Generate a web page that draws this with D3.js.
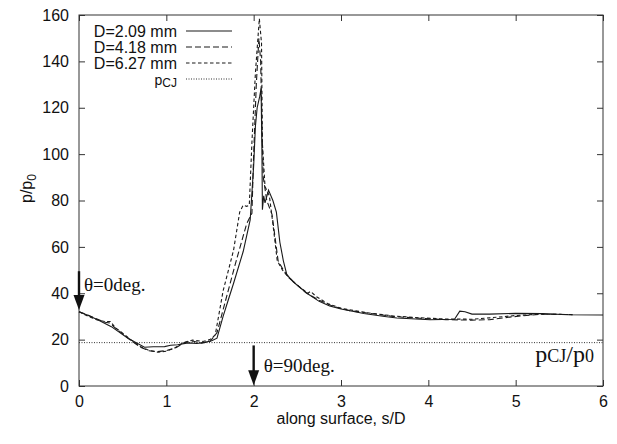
<!DOCTYPE html>
<meta charset="utf-8">
<script src="https://d3js.org/d3.v7.min.js"></script>
<style>
  body { margin: 0; background: #fff; }
  text { font-family: "Liberation Sans", Arial, sans-serif; fill: #111; }
  .serif { font-family: "Liberation Serif", "Times New Roman", serif; }
</style>
<div id="chart"></div>
<script>

// Series: [s/D, p/p0]
var d209 = [[0,32],[0.1,30.5],[0.22,28.5],[0.37,25.6],[0.56,20.6],[0.75,16.7],[0.85,16.9],[0.98,17.0],[1.05,17.6],[1.13,17.8],[1.25,18.6],[1.35,18.3],[1.44,18.8],[1.52,19.5],[1.58,20.6],[1.65,30],[1.7,36],[1.77,44.3],[1.88,58],[1.96,71.6],[2.0,95],[2.02,112],[2.04,120],[2.07,125],[2.085,128.4],[2.095,100],[2.1,76],[2.115,82],[2.13,79],[2.17,84.5],[2.22,80],[2.26,75],[2.3,62],[2.34,54],[2.38,48],[2.45,45],[2.53,42.5],[2.61,40],[2.75,36.5],[2.87,34.5],[3.0,33.2],[3.26,31.3],[3.5,30],[3.64,29.3],[4.02,28.6],[4.3,28.8],[4.36,32.3],[4.42,32],[4.5,31],[4.7,31],[5.0,31.3],[5.3,31.2],[5.6,30.7],[6.0,30.6]]

var d418 = [[0,32],[0.1,30.6],[0.2,29],[0.3,27.5],[0.35,27.2],[0.4,25.5],[0.5,22.5],[0.6,19.5],[0.7,16.8],[0.8,15.2],[0.9,14.8],[1.0,15.3],[1.1,16.3],[1.2,18.6],[1.3,19.4],[1.4,18.5],[1.5,19.2],[1.58,23],[1.69,38.5],[1.8,54],[1.92,70],[1.98,74.5],[2.0,100],[2.03,130],[2.06,150],[2.08,140],[2.095,112],[2.11,90],[2.15,80],[2.21,74],[2.28,54],[2.34,50],[2.4,47],[2.5,43.5],[2.6,40.2],[2.75,37],[2.9,34.5],[3.1,32.5],[3.3,31.5],[3.6,30],[3.9,29.2],[4.2,28.6],[4.5,28.4],[4.7,28.6],[4.95,29.8],[5.3,31],[5.65,30.8]]

var d627 = [[0,32],[0.1,30.2],[0.2,28.6],[0.3,27.8],[0.36,27.8],[0.42,25],[0.5,22.8],[0.6,19.8],[0.7,17],[0.8,15.4],[0.9,14.6],[1.0,15],[1.1,16.5],[1.2,18.8],[1.3,19.8],[1.42,19.2],[1.5,20],[1.56,22],[1.65,41],[1.77,58.6],[1.84,75],[1.88,78],[1.92,77.5],[1.95,78],[1.98,105],[2.02,135],[2.065,158.5],[2.09,147.8],[2.1,104.6],[2.13,86],[2.18,82],[2.22,70],[2.27,54],[2.33,50],[2.4,46.8],[2.5,43.5],[2.62,40],[2.65,40.8],[2.72,38.5],[2.85,35.5],[3.0,33.5],[3.3,31.6],[3.6,30.2],[3.9,29.4],[4.2,28.9],[4.5,28.8],[4.7,29.4],[5.0,30.4],[5.3,31],[5.65,30.8]]

var pCJ = 18.7
var xTicks = [0, 1, 2, 3, 4, 5, 6]
var yTicks = [0, 20, 40, 60, 80, 100, 120, 140, 160]

var series = [
  {name: "D=2.09 mm", data: d209, dash: null},
  {name: "D=4.18 mm", data: d418, dash: "6,3"},
  {name: "D=6.27 mm", data: d627, dash: "3.5,2.5"}
]

var margin = {top: 15, right: 14, bottom: 58, left: 79},
    width = 617 - margin.left - margin.right,
    height = 444 - margin.top - margin.bottom

var svg = d3.select("#chart")
  .append("svg")
    .attr("width", 617)
    .attr("height", 444)
  .append("g")
    .attr("transform", "translate(" + margin.left + "," + margin.top + ")")

var x = d3.scaleLinear().domain([0, 6]).range([0, width])
var y = d3.scaleLinear().domain([0, 160]).range([height, 0])

// Axes with inward ticks, mirrored on top and right
svg.append("g")
  .attr("transform", "translate(0," + height + ")")
  .call(d3.axisBottom(x).tickValues(xTicks).tickSize(-6).tickPadding(10).tickFormat(d3.format("d")))
  .call(function(g){ g.select(".domain").remove() })
svg.append("g")
  .call(d3.axisTop(x).tickValues(xTicks).tickSize(-6).tickFormat(""))
  .call(function(g){ g.select(".domain").remove() })
svg.append("g")
  .call(d3.axisLeft(y).tickValues(yTicks).tickSize(-6).tickPadding(10))
  .call(function(g){ g.select(".domain").remove() })
svg.append("g")
  .attr("transform", "translate(" + width + ",0)")
  .call(d3.axisRight(y).tickValues(yTicks).tickSize(-6).tickFormat(""))
  .call(function(g){ g.select(".domain").remove() })

svg.selectAll(".tick line").attr("stroke", "#333")
svg.selectAll(".tick text").style("font-size", "16px").style("font-family", "'Liberation Sans', Arial, sans-serif").attr("fill", "#111")

svg.append("rect")
  .attr("width", width).attr("height", height)
  .attr("fill", "none").attr("stroke", "#333").attr("stroke-width", 1)

// Axis titles
svg.append("text")
  .attr("x", 262).attr("y", height + 38)
  .attr("text-anchor", "middle")
  .style("font-size", "16px")
  .text("along surface, s/D")

var ylab = svg.append("text")
  .attr("transform", "translate(-47," + (y(80) - 12) + ") rotate(-90)")
  .attr("text-anchor", "middle")
  .style("font-size", "16px")
ylab.append("tspan").text("p/p")
ylab.append("tspan").attr("dy", 4).style("font-size", "12px").text("0")

// p_CJ line
svg.append("line")
  .attr("x1", 0).attr("x2", width)
  .attr("y1", y(pCJ)).attr("y2", y(pCJ))
  .attr("stroke", "#333").attr("stroke-width", 1)
  .attr("stroke-dasharray", "1,1.5")

// Curves
var line = d3.line()
  .x(function(d){ return x(d[0]) })
  .y(function(d){ return y(d[1]) })

svg.selectAll("path.curve")
  .data(series)
  .enter()
  .append("path")
    .attr("class", "curve")
    .attr("d", function(d){ return line(d.data) })
    .attr("fill", "none")
    .attr("stroke", "#1a1a1a")
    .attr("stroke-width", 1.1)
    .attr("stroke-dasharray", function(d){ return d.dash })

// Legend
var legend = svg.append("g").attr("transform", "translate(98,16)")
series.forEach(function(s, i){
  legend.append("text")
    .attr("x", 0).attr("y", i * 16 + 6)
    .attr("text-anchor", "end")
    .style("font-size", "16px")
    .text(s.name)
  legend.append("line")
    .attr("x1", 9).attr("x2", 55)
    .attr("y1", i * 16).attr("y2", i * 16)
    .attr("stroke", "#1a1a1a").attr("stroke-width", 1.1)
    .attr("stroke-dasharray", s.dash)
})
var lp = legend.append("text")
  .attr("x", 0).attr("y", 3 * 16 + 6)
  .attr("text-anchor", "end")
  .style("font-size", "14px")
lp.append("tspan").text("p")
lp.append("tspan").attr("dy", 2).style("font-size", "12px").text("CJ")
legend.append("line")
  .attr("x1", 9).attr("x2", 55)
  .attr("y1", 48).attr("y2", 48)
  .attr("stroke", "#333").attr("stroke-width", 1)
  .attr("stroke-dasharray", "1,1.5")

// Angle arrows
function arrow(sx, pTop, pTip) {
  var cx = x(sx), y0 = y(pTop), y1 = y(pTip)
  svg.append("line")
    .attr("x1", cx).attr("x2", cx)
    .attr("y1", y0).attr("y2", y1 - 14)
    .attr("stroke", "#111").attr("stroke-width", 2.4)
  svg.append("path")
    .attr("d", "M" + (cx - 5.5) + "," + (y1 - 15) + "L" + (cx + 5.5) + "," + (y1 - 15) + "L" + cx + "," + y1 + "Z")
    .attr("fill", "#111")
}
arrow(0, 49.5, 32.8)
arrow(2, 17.5, 0.3)

svg.append("text").attr("class", "serif")
  .attr("x", x(0) + 5).attr("y", y(41))
  .style("font-size", "19px")
  .text("θ=0deg.")
svg.append("text").attr("class", "serif")
  .attr("x", x(2) + 10).attr("y", y(6))
  .style("font-size", "19px")
  .text("θ=90deg.")

var pr = svg.append("text").attr("class", "serif")
  .attr("x", width - 9).attr("y", y(10.5))
  .attr("text-anchor", "end")
  .style("font-size", "24px")
pr.append("tspan").text("p")
pr.append("tspan").style("font-size", "18px").text("CJ")
pr.append("tspan").text("/p")
pr.append("tspan").style("font-size", "18px").text("0")

</script>
